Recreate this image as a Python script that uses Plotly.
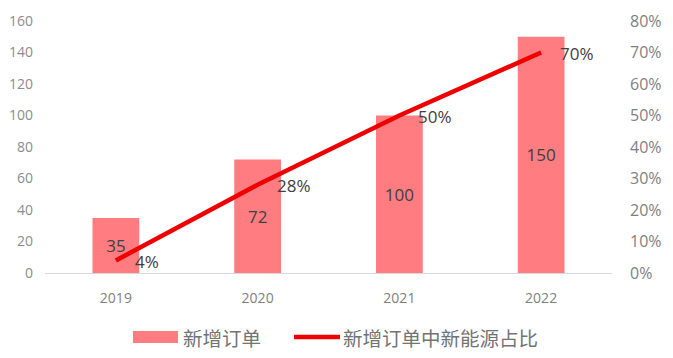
import plotly.graph_objects as go

years = ["2019", "2020", "2021", "2022"]
new_orders = [35, 72, 100, 150]
ne_share = [4, 28, 50, 70]
ne_share_labels = ["4%", "28%", "50%", "70%"]
left_ticks = [0, 20, 40, 60, 80, 100, 120, 140, 160]
right_ticks = [0, 10, 20, 30, 40, 50, 60, 70, 80]
right_tick_labels = [f"{v}%" for v in right_ticks]
legend_names = ["新增订单", "新增订单中新能源占比"]

BAR_COLOR = "#FF7C80"
LINE_COLOR = "#EE0000"
NUM_FONT = "Open Sans, Noto Sans, sans-serif"
CJK_FONT = "Noto Sans CJK SC, sans-serif"

# page body has an 8px default margin; compensate
OFF = 8
W, H = 673 - OFF, 358 - OFF
ML, MR, MT, MB = 45 - OFF, 61, 21 - OFF, 85

fig = go.Figure()
fig.add_trace(go.Bar(
    x=years, y=new_orders, name=legend_names[0],
    marker=dict(color=BAR_COLOR, line=dict(width=0)),
    width=0.33,
    text=[str(v) for v in new_orders], textposition="inside",
    insidetextanchor="middle",
    textfont=dict(size=17, color="#404040", family=NUM_FONT),
    showlegend=False,
))
fig.add_trace(go.Scatter(
    x=years, y=ne_share, name=legend_names[1], yaxis="y2",
    mode="lines",
    line=dict(color=LINE_COLOR, width=4.5),
    showlegend=False, cliponaxis=False,
))
for i, (v, lab) in enumerate(zip(ne_share, ne_share_labels)):
    fig.add_annotation(x=i, y=v, xref="x", yref="y2", text=lab,
                       showarrow=False, xanchor="left", yanchor="middle",
                       xshift=17, yshift=-1,
                       font=dict(size=17, color="#404040", family=NUM_FONT))

fig.update_layout(
    width=W, height=H,
    margin=dict(l=ML, r=MR, t=MT, b=MB, autoexpand=False),
    paper_bgcolor="white", plot_bgcolor="white",
    font=dict(family=NUM_FONT, color="#808080", size=13),
    xaxis=dict(
        type="category", categoryorder="array", categoryarray=years,
        range=[-0.5, len(years) - 0.5],
        showgrid=False, showline=True,
        linecolor="#D9D9D9", linewidth=1, ticks="", ticklabelstandoff=12,
        tickfont=dict(size=14, color="#808080"),
    ),
    yaxis=dict(
        range=[0, 160], tickvals=left_ticks, showgrid=False,
        zeroline=False, showline=False, ticks="", ticklabelstandoff=11,
        tickfont=dict(size=14, color="#8C8C8C"),
    ),
    yaxis2=dict(
        range=[0, 80], tickvals=right_ticks, ticktext=right_tick_labels,
        overlaying="y", side="right", showgrid=False, zeroline=False,
        showline=False, ticks="", ticklabelstandoff=17,
        tickfont=dict(size=16, color="#7F7F7F"),
    ),
    showlegend=False,
)

# Manual legend (paper coordinates, given in page pixels)
plot_h = H - MT - MB
plot_w = W - ML - MR
def px(x):
    return (x - OFF - ML) / plot_w
def py(y):
    return (H - MB - (y - OFF)) / plot_h

fig.add_shape(type="rect", xref="paper", yref="paper",
              x0=px(133), x1=px(178), y0=py(343), y1=py(331),
              fillcolor=BAR_COLOR, line=dict(width=0))
fig.add_shape(type="line", xref="paper", yref="paper",
              x0=px(294), x1=px(340), y0=py(337), y1=py(337),
              line=dict(color=LINE_COLOR, width=4.5))
fig.add_annotation(xref="paper", yref="paper", x=px(181), y=py(337),
                   xanchor="left", yanchor="middle", showarrow=False,
                   text=legend_names[0],
                   font=dict(family=CJK_FONT, size=19.5, color="#737373"))
fig.add_annotation(xref="paper", yref="paper", x=px(341), y=py(337),
                   xanchor="left", yanchor="middle", showarrow=False,
                   text=legend_names[1],
                   font=dict(family=CJK_FONT, size=19.5, color="#737373"))

fig.write_html("out.html")
